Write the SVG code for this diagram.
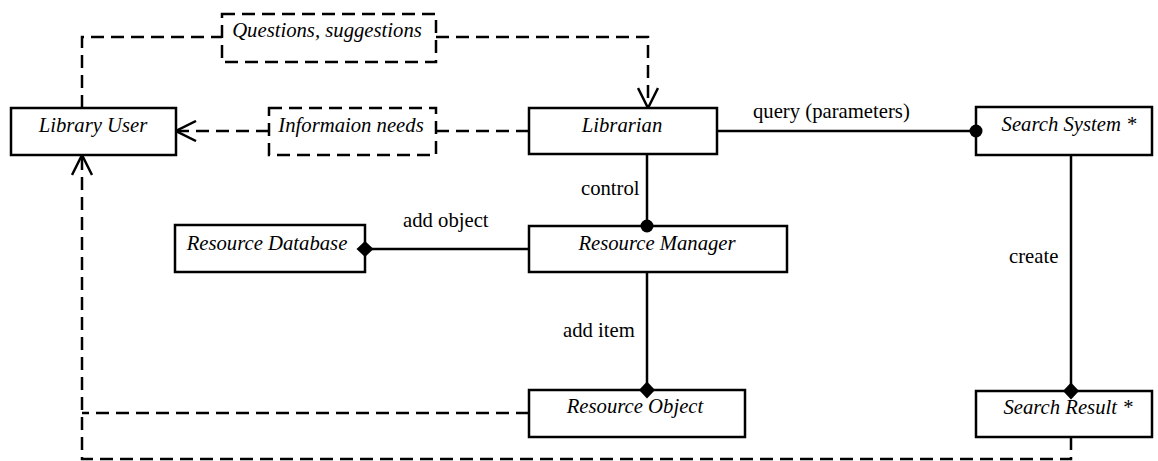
<svg xmlns="http://www.w3.org/2000/svg" width="1158" height="461" viewBox="0 0 1158 461">
  <style>
    .box { fill: #fff; stroke: #000; stroke-width: 2.5; }
    .dbox { fill: #fff; stroke: #000; stroke-width: 2.5; stroke-dasharray: 13 7; }
    .line { fill: none; stroke: #000; stroke-width: 2.5; }
    .dash { fill: none; stroke: #000; stroke-width: 2.5; stroke-dasharray: 13 7; }
    text { font-family: 'Liberation Serif', 'Times New Roman', serif; font-size: 20.7px; fill: #000; }
    .name { font-style: italic; text-anchor: middle; }
  </style>
  <defs>
    <marker id="open-arrow" viewBox="0 0 22 22" refX="21" refY="11" markerWidth="22" markerHeight="22" markerUnits="userSpaceOnUse" orient="auto">
      <path d="M1,1 L21,11 L1,21" fill="none" stroke="#000" stroke-width="2.5" stroke-dasharray="none"/>
    </marker>
    <marker id="diamond" viewBox="-9 -9 18 18" refX="0" refY="0" markerWidth="18" markerHeight="18" markerUnits="userSpaceOnUse" orient="auto">
      <path d="M-8.5,0 L0,-8 L8.5,0 L0,8 Z" fill="#000" stroke="none"/>
    </marker>
    <marker id="dot" viewBox="-7 -7 14 14" refX="0" refY="0" markerWidth="14" markerHeight="14" markerUnits="userSpaceOnUse" orient="auto">
      <circle cx="0" cy="0" r="6.5" fill="#000"/>
    </marker>
  </defs>

  <g id="library-user">
    <rect class="box" x="11" y="108" width="165" height="47"/>
    <text class="name" x="93" y="132">Library User</text>
  </g>
  <g id="questions">
    <rect class="dbox" x="222" y="14" width="214" height="48"/>
    <text class="name" x="327" y="37">Questions, suggestions</text>
  </g>
  <g id="information-needs">
    <rect class="dbox" x="269" y="108" width="167" height="47"/>
    <text class="name" x="351" y="132">Informaion needs</text>
  </g>
  <g id="librarian">
    <rect class="box" x="529" y="108" width="188" height="46"/>
    <text class="name" x="622" y="132">Librarian</text>
  </g>
  <g id="search-system">
    <rect class="box" x="976" y="107" width="176" height="48"/>
    <text class="name" x="1069" y="131">Search System *</text>
  </g>
  <g id="resource-database">
    <rect class="box" x="175" y="225" width="190" height="47"/>
    <text class="name" x="267" y="250">Resource Database</text>
  </g>
  <g id="resource-manager">
    <rect class="box" x="529" y="226" width="258" height="46"/>
    <text class="name" x="657" y="250">Resource Manager</text>
  </g>
  <g id="resource-object">
    <rect class="box" x="529" y="390" width="216" height="47"/>
    <text class="name" x="635" y="413">Resource Object</text>
  </g>
  <g id="search-result">
    <rect class="box" x="976" y="391" width="176" height="46"/>
    <text class="name" x="1068" y="414">Search Result *</text>
  </g>

  <!-- connectors, drawn over the boxes so the end markers sit on the edges -->
  <g id="connectors">
    <path class="dash" d="M82,108 V37 H222"/>
    <path class="dash" d="M436,37 H648 V108" marker-end="url(#open-arrow)"/>
    <path class="dash" d="M529,131 H436"/>
    <path class="dash" d="M269,131 H176" marker-end="url(#open-arrow)"/>
    <path class="line" d="M717,131 H976" marker-end="url(#dot)"/>
    <path class="line" d="M647,154 V226" marker-end="url(#dot)"/>
    <path class="line" d="M529,249 H365" marker-end="url(#diamond)"/>
    <path class="line" d="M647,272 V390" marker-end="url(#diamond)"/>
    <path class="line" d="M1071,155 V391" marker-end="url(#diamond)"/>
    <path class="dash" d="M529,413 H82"/>
    <path class="dash" d="M1071,437 V459 H82 V155" marker-end="url(#open-arrow)"/>
    <text x="753" y="118">query (parameters)</text>
    <text x="581" y="195">control</text>
    <text x="403" y="227">add object</text>
    <text x="563" y="337">add item</text>
    <text x="1009" y="263">create</text>
  </g>
</svg>
